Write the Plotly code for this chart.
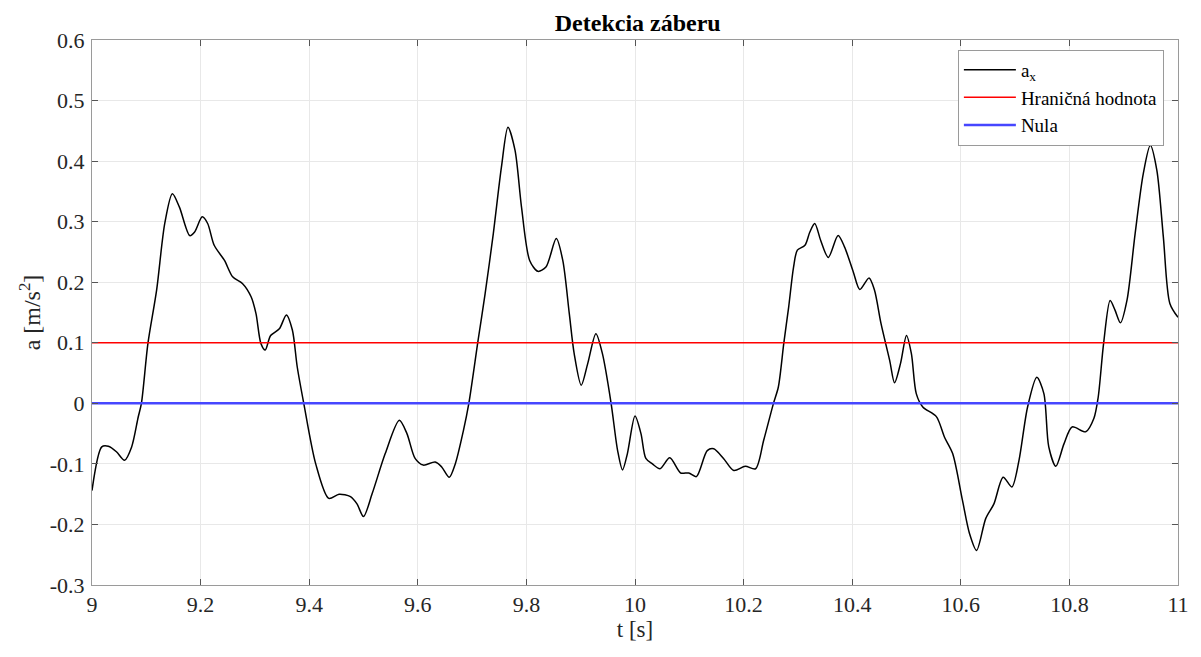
import plotly.graph_objects as go

# --- data ---
t = [9.000, 9.018, 9.030, 9.045, 9.060, 9.073, 9.085, 9.091, 9.103, 9.119, 9.134, 9.148,
     9.161, 9.180, 9.189, 9.203, 9.213, 9.225, 9.244, 9.259, 9.277, 9.293, 9.302, 9.311,
     9.319, 9.329, 9.345, 9.358, 9.369, 9.378, 9.390, 9.412, 9.436, 9.455, 9.476, 9.488,
     9.500, 9.516, 9.540, 9.566, 9.580, 9.595, 9.610, 9.632, 9.644, 9.658, 9.669, 9.684,
     9.694, 9.711, 9.724, 9.739, 9.754, 9.766, 9.779, 9.791, 9.806, 9.821, 9.836, 9.855,
     9.867, 9.879, 9.888, 9.901, 9.913, 9.928, 9.940, 9.956, 9.968, 9.977, 9.986, 10.000,
     10.011, 10.020, 10.032, 10.046, 10.064, 10.084, 10.099, 10.113, 10.133, 10.145, 10.163,
     10.182, 10.203, 10.222, 10.237, 10.255, 10.264, 10.274, 10.283, 10.292, 10.299, 10.313,
     10.322, 10.331, 10.342, 10.356, 10.374, 10.386, 10.402, 10.414, 10.431, 10.441, 10.453,
     10.469, 10.478, 10.489, 10.500, 10.509, 10.518, 10.530, 10.555, 10.570, 10.585, 10.603,
     10.616, 10.629, 10.646, 10.661, 10.678, 10.694, 10.707, 10.723, 10.740, 10.753, 10.762,
     10.775, 10.790, 10.805, 10.830, 10.845, 10.853, 10.863, 10.875, 10.884, 10.894, 10.906,
     10.921, 10.936, 10.949, 10.961, 10.973, 10.985, 11.000]
a_x = [-0.144, -0.072, -0.071, -0.080, -0.094, -0.072, -0.023, 0.000, 0.099, 0.187, 0.297, 0.346,
       0.324, 0.277, 0.283, 0.308, 0.297, 0.261, 0.236, 0.209, 0.198, 0.176, 0.148, 0.099,
       0.088, 0.112, 0.123, 0.146, 0.121, 0.060, 0.000, -0.100, -0.157, -0.150, -0.154, -0.166,
       -0.187, -0.149, -0.083, -0.028, -0.050, -0.091, -0.102, -0.097, -0.105, -0.122, -0.100, -0.045,
       0.000, 0.104, 0.181, 0.280, 0.390, 0.456, 0.418, 0.324, 0.236, 0.218, 0.225, 0.272,
       0.236, 0.148, 0.082, 0.030, 0.066, 0.115, 0.082, 0.000, -0.078, -0.110, -0.083, -0.021,
       -0.050, -0.091, -0.100, -0.108, -0.090, -0.115, -0.115, -0.121, -0.078, -0.075, -0.091,
       -0.111, -0.104, -0.108, -0.061, 0.000, 0.027, 0.099, 0.159, 0.225, 0.253, 0.261,
       0.283, 0.297, 0.269, 0.241, 0.277, 0.258, 0.217, 0.188, 0.207, 0.187, 0.132,
       0.071, 0.034, 0.066, 0.112, 0.082, 0.016, -0.006, -0.022, -0.056, -0.083, -0.160,
       -0.215, -0.243, -0.190, -0.166, -0.122, -0.138, -0.095, -0.006, 0.043, 0.016, -0.072,
       -0.104, -0.067, -0.039, -0.047, -0.025, 0.010, 0.099, 0.170, 0.154, 0.133, 0.170,
       0.280, 0.379, 0.426, 0.385, 0.275, 0.165, 0.142]

t_range = [9, 11]
threshold = [0.1, 0.1]
zero = [0, 0]

x_tickvals = [9, 9.2, 9.4, 9.6, 9.8, 10, 10.2, 10.4, 10.6, 10.8, 11]
x_ticktext = ["9", "9.2", "9.4", "9.6", "9.8", "10", "10.2", "10.4", "10.6", "10.8", "11"]
y_tickvals = [-0.3, -0.2, -0.1, 0, 0.1, 0.2, 0.3, 0.4, 0.5, 0.6]
y_ticktext = ["-0.3", "-0.2", "-0.1", "0", "0.1", "0.2", "0.3", "0.4", "0.5", "0.6"]

FONT = "Liberation Serif"

fig = go.Figure()
fig.add_trace(go.Scatter(x=t, y=a_x, mode="lines", name="a<sub>x</sub>",
                         line=dict(color="black", width=1.5, shape="spline", smoothing=0.8)))
fig.add_trace(go.Scatter(x=t_range, y=threshold, mode="lines", name="Hraničná hodnota",
                         line=dict(color="#ff0000", width=1.5)))
fig.add_trace(go.Scatter(x=t_range, y=zero, mode="lines", name="Nula",
                         line=dict(color="#4646ff", width=2.5)))

axis_common = dict(showline=True, linecolor="#9a9a9a", linewidth=1, mirror="ticks",
                   ticks="inside", ticklen=6, tickcolor="#555555",
                   showgrid=True, gridcolor="#e8e8e8", gridwidth=1, zeroline=False,
                   tickfont=dict(family=FONT, size=22, color="#262626"))

fig.update_layout(
    width=1201, height=657,
    margin=dict(l=92, r=18, t=40, b=72),
    paper_bgcolor="white", plot_bgcolor="white",
    font=dict(family=FONT),
    title=dict(text="<b>Detekcia záberu</b>", x=0.531, xanchor="center", y=0.966, yanchor="middle",
               font=dict(family=FONT, size=24, color="black")),
    xaxis=dict(range=[9, 11], tickvals=x_tickvals, ticktext=x_ticktext,
               title=dict(text="t [s]", font=dict(family=FONT, size=23, color="#262626"), standoff=2),
               **axis_common),
    yaxis=dict(range=[-0.3, 0.6], tickvals=y_tickvals, ticktext=y_ticktext, ticklabelstandoff=2,
               title=dict(text="a [m/s<sup>2</sup>]", font=dict(family=FONT, size=24, color="#262626"), standoff=2),
               **axis_common),
    legend=dict(x=0.987, y=0.982, xanchor="right", yanchor="top",
                bgcolor="white", bordercolor="#9a9a9a", borderwidth=1,
                font=dict(family=FONT, size=19, color="black"),
                tracegroupgap=0, itemwidth=52),
    showlegend=True,
)

fig.write_html("out.html")
